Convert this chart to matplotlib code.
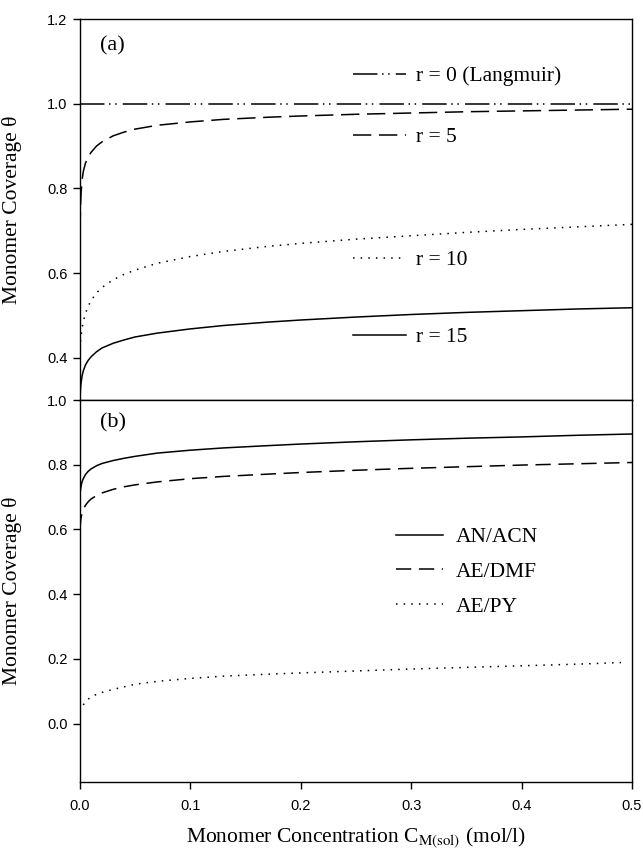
import numpy as np
import matplotlib.pyplot as plt
from matplotlib.legend import Legend
from matplotlib.ticker import FormatStrFormatter

plt.rcParams['font.family'] = ['Liberation Serif', 'DejaVu Serif']
plt.rcParams['mathtext.fontset'] = 'stix'

# monomer concentration (mol/l) at which the curves were read
conc = [0.0, 0.0005, 0.001, 0.002, 0.003, 0.005, 0.0075, 0.01, 0.015, 0.02,
        0.03, 0.04, 0.05, 0.07, 0.1, 0.13, 0.17, 0.2, 0.25, 0.3,
        0.35, 0.4, 0.45, 0.5]

# panel (a): coverage for different r values
theta_r0 = [1.0] * len(conc)
theta_r5 = [0.70, 0.76, 0.79, 0.822, 0.84, 0.86, 0.874, 0.885, 0.90, 0.91,
            0.924, 0.933, 0.94, 0.949, 0.957, 0.963, 0.968, 0.971, 0.975, 0.978,
            0.981, 0.983, 0.985, 0.987]
theta_r10 = [0.42, 0.44, 0.452, 0.472, 0.485, 0.505, 0.522, 0.535, 0.553, 0.566,
             0.584, 0.597, 0.607, 0.623, 0.639, 0.651, 0.663, 0.670, 0.680, 0.688,
             0.696, 0.703, 0.709, 0.715]
theta_r15 = [0.30, 0.328, 0.341, 0.358, 0.369, 0.383, 0.394, 0.402, 0.414, 0.423,
             0.434, 0.442, 0.449, 0.458, 0.468, 0.476, 0.484, 0.489, 0.496, 0.502,
             0.507, 0.511, 0.515, 0.518]

# panel (b): monomer / solvent systems
theta_an = [0.706, 0.724, 0.735, 0.749, 0.757, 0.770, 0.780, 0.787, 0.797, 0.804,
            0.813, 0.820, 0.826, 0.836, 0.845, 0.852, 0.859, 0.864, 0.871, 0.877,
            0.882, 0.886, 0.891, 0.895]
theta_dmf = [0.60, 0.625, 0.637, 0.652, 0.662, 0.675, 0.686, 0.694, 0.705, 0.713,
             0.724, 0.732, 0.738, 0.747, 0.757, 0.764, 0.771, 0.776, 0.783, 0.789,
             0.794, 0.799, 0.803, 0.807]
conc_py = [0.003, 0.005, 0.0075, 0.01, 0.015, 0.02, 0.03, 0.04, 0.05, 0.07,
           0.1, 0.13, 0.17, 0.2, 0.25, 0.3, 0.35, 0.4, 0.45, 0.49]
theta_py = [0.058, 0.068, 0.076, 0.082, 0.091, 0.097, 0.106, 0.114, 0.122, 0.131,
            0.140, 0.147, 0.153, 0.157, 0.163, 0.169, 0.174, 0.179, 0.184, 0.189]

labels_a = ['r = 0 (Langmuir)', 'r = 5', 'r = 10', 'r = 15']
labels_b = ['AN/ACN', 'AE/DMF', 'AE/PY']

fig = plt.figure(figsize=(6.43, 8.5), dpi=100)
ax1 = fig.add_axes([0.1244, 0.5294, 0.8585, 0.4482])
ax2 = fig.add_axes([0.1244, 0.08, 0.8585, 0.4494])

lw = 1.1
l0, = ax1.plot(conc, theta_r0, color='k', lw=lw, ls=(0, (16, 3, 1, 3, 1, 4)))
l5, = ax1.plot(conc, theta_r5, color='k', lw=lw, ls=(0, (12, 5)))
l10, = ax1.plot(conc, theta_r10, color='k', lw=lw, ls=(0, (1, 4)))
l15, = ax1.plot(conc, theta_r15, color='k', lw=lw, ls='-')

la, = ax2.plot(conc, theta_an, color='k', lw=lw, ls='-')
lb, = ax2.plot(conc, theta_dmf, color='k', lw=lw, ls=(0, (10, 5)))
lc, = ax2.plot(conc_py, theta_py, color='k', lw=lw, ls=(0, (1, 4)))

ax1.set_xlim(0, 0.5)
ax1.set_ylim(0.3, 1.2)
ax1.set_yticks([0.4, 0.6, 0.8, 1.0, 1.2])
ax1.set_xticks([])
ax2.set_xlim(0, 0.5)
ax2.set_ylim(-0.18, 1.0)
ax2.set_yticks([0.0, 0.2, 0.4, 0.6, 0.8, 1.0])
ax2.set_xticks([0.0, 0.1, 0.2, 0.3, 0.4, 0.5])

for ax in (ax1, ax2):
    ax.yaxis.set_major_formatter(FormatStrFormatter('%.1f'))
    ax.xaxis.set_major_formatter(FormatStrFormatter('%.1f'))
    ax.tick_params(direction='out', length=5, width=1, pad=4, labelsize=10.5)
    for lab in ax.get_xticklabels() + ax.get_yticklabels():
        lab.set_family('Liberation Sans')
    for s in ax.spines.values():
        s.set_linewidth(1.0)
    ax.set_ylabel('Monomer Coverage θ', fontsize=15.5)
    ax.yaxis.set_label_coords(-0.105, 0.5)
ax2.tick_params(axis='x', pad=7)

ax2.set_xlabel('Monomer Concentration C$_{\\mathrm{M(sol)}}$ (mol/l)', fontsize=15.5, labelpad=9)

ax1.text(0.036, 0.93, '(a)', transform=ax1.transAxes, fontsize=16, va='center')
ax2.text(0.036, 0.94, '(b)', transform=ax2.transAxes, fontsize=16, va='center')

# separate legend entries in panel (a), each placed beside its curve
ypos_a = [0.850, 0.690, 0.367, 0.165]
for h, lab, yy in zip([l0, l5, l10, l15], labels_a, ypos_a):
    leg = Legend(ax1, [h], [lab], loc='center left', bbox_to_anchor=(0.495, yy),
                 frameon=False, fontsize=15.5, handlelength=2.45,
                 handletextpad=0.45, borderpad=0, borderaxespad=0)
    ax1.add_artist(leg)

ax2.legend([la, lb, lc], labels_b, loc='center left', bbox_to_anchor=(0.572, 0.55),
           frameon=False, fontsize=15.5, handlelength=2.2, handletextpad=0.6,
           labelspacing=0.68, borderpad=0, borderaxespad=0)

fig.savefig('out.png', dpi=100)
